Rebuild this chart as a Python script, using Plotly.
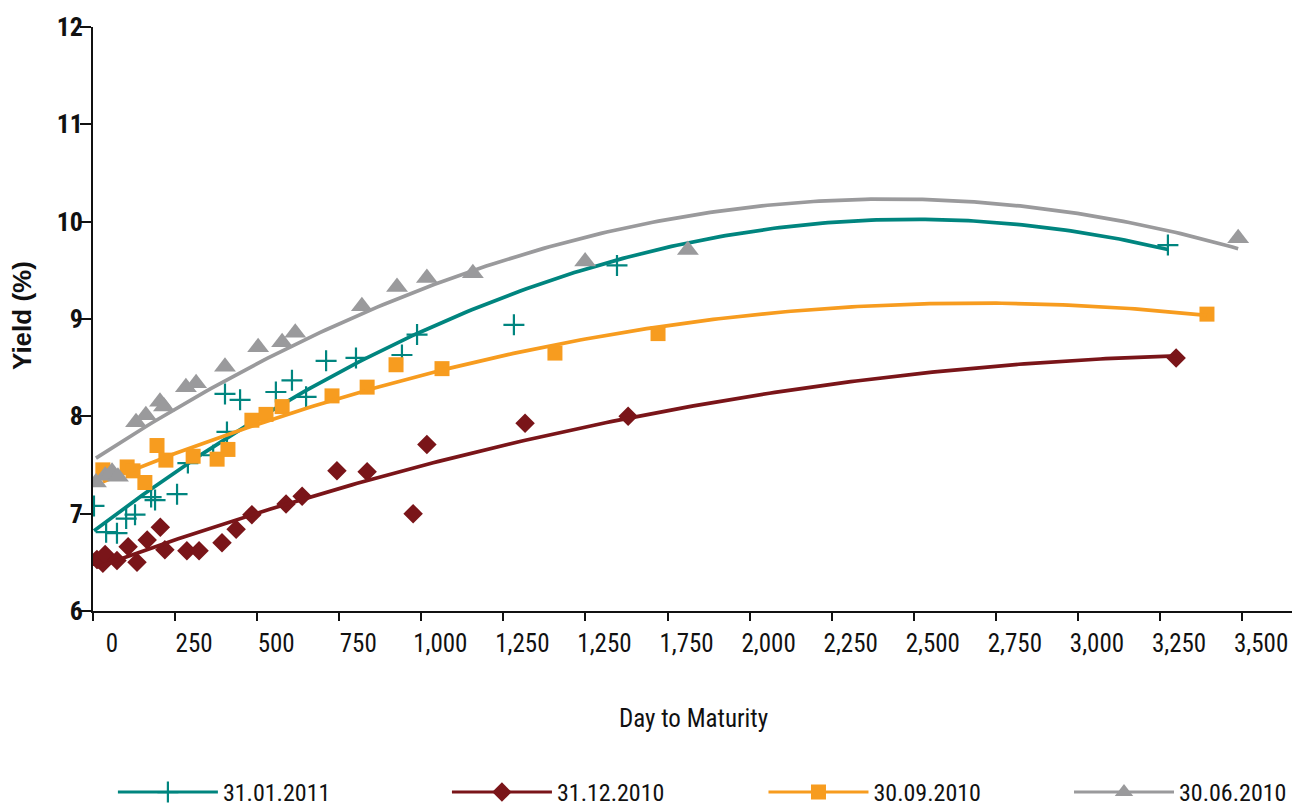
import numpy as np
import plotly.graph_objects as go

# ---- data ----
days_jan11 = [3, 40, 73, 101, 128, 177, 189, 256, 289, 366, 408, 402, 448, 557, 606, 649, 710, 801, 941, 987, 1282, 1596, 3274]
yield_jan11 = [7.08, 6.81, 6.80, 6.95, 6.99, 7.17, 7.14, 7.20, 7.52, 7.60, 7.84, 8.23, 8.17, 8.25, 8.37, 8.20, 8.57, 8.60, 8.63, 8.84, 8.94, 9.55, 9.76]

days_dec10 = [12, 30, 37, 73, 107, 134, 165, 205, 219, 286, 323, 393, 436, 484, 588, 637, 743, 835, 975, 1017, 1316, 1630, 3299]
yield_dec10 = [6.53, 6.49, 6.58, 6.52, 6.66, 6.50, 6.73, 6.86, 6.63, 6.62, 6.62, 6.70, 6.84, 6.99, 7.10, 7.18, 7.44, 7.43, 7.00, 7.71, 7.93, 8.00, 8.60]

days_sep10 = [30, 104, 122, 158, 195, 222, 305, 378, 411, 484, 527, 576, 728, 835, 923, 1063, 1407, 1721, 3393]
yield_sep10 = [7.45, 7.48, 7.44, 7.32, 7.70, 7.55, 7.59, 7.56, 7.66, 7.96, 8.02, 8.10, 8.21, 8.30, 8.53, 8.49, 8.65, 8.85, 9.05]

days_jun10 = [9, 37, 58, 76, 131, 161, 204, 216, 283, 314, 402, 503, 576, 616, 819, 926, 1017, 1157, 1499, 1812, 3488]
yield_jun10 = [7.32, 7.39, 7.43, 7.38, 7.94, 8.01, 8.15, 8.10, 8.30, 8.34, 8.51, 8.71, 8.76, 8.86, 9.13, 9.33, 9.42, 9.47, 9.59, 9.71, 9.83]

x_ticks = [0, 250, 500, 750, 1000, 1250, 1500, 1750, 2000, 2250, 2500, 2750, 3000, 3250, 3500]
# (the source chart repeats "1,250")
x_tick_labels = ["0", "250", "500", "750", "1,000", "1,250", "1,250", "1,750", "2,000",
                 "2,250", "2,500", "2,750", "3,000", "3,250", "3,500"]
y_ticks = [6, 7, 8, 9, 10, 11, 12]

series = [
    ("31.01.2011", days_jan11, yield_jan11, "#00857f",
     dict(symbol="cross-thin-open", size=15, line=dict(width=2.2, color="#00857f")), "legend", 0.0166, "left"),
    ("31.12.2010", days_dec10, yield_dec10, "#7a1519", dict(symbol="diamond", size=15), "legend2", 0.2952, "left"),
    ("30.09.2010", days_sep10, yield_sep10, "#f79c1f", dict(symbol="square", size=15), "legend3", 0.5592, "left"),
    ("30.06.2010", days_jun10, yield_jun10, "#9a9a9c", dict(symbol="triangle-up", size=19), "legend4", 1.0, "right"),
]

FONT = "Roboto Condensed, Liberation Sans Narrow, Arial Narrow, sans-serif"
FONT_W = "Liberation Sans, Arial, sans-serif"
LEG_Y = -(815 - 611) / 584

fig = go.Figure()
legends = {}
for name, xs, ys, col, mk, leg, lx, lanchor in series:
    xs_a = np.array(xs, dtype=float)
    ys_a = np.array(ys, dtype=float)
    coef = np.polyfit(xs_a, ys_a, 2)  # 2nd-order polynomial trendline
    xf = np.linspace(xs_a.min(), xs_a.max(), 200)
    yf = np.polyval(coef, xf)
    fig.add_trace(go.Scatter(
        x=xs, y=ys, mode="markers", name=name, legendgroup=name,
        marker=dict(color=col, **mk), showlegend=False, hoverinfo="x+y"))
    fig.add_trace(go.Scatter(
        x=xf, y=yf, mode="lines", name=name, legendgroup=name,
        line=dict(color=col, width=3.7), showlegend=False, hoverinfo="skip"))
    # legend entry
    fig.add_trace(go.Scatter(
        x=[None], y=[None], mode="lines+markers", name=name, legendgroup=name, legend=leg,
        line=dict(color=col, width=3), marker=dict(color=col, **mk), showlegend=True))
    legends[leg] = dict(orientation="h", x=lx, xanchor=lanchor, y=LEG_Y, yanchor="bottom",
                        itemwidth=100, bgcolor="rgba(0,0,0,0)",
                        font=dict(family=FONT, size=24, color="#111111"))

fig.update_layout(
    width=1295, height=809,
    margin=dict(l=93, r=3, t=27, b=198, autoexpand=False),
    paper_bgcolor="white", plot_bgcolor="white",
    font=dict(family=FONT, size=25, color="#111111"),
    showlegend=True,
    **legends,
    xaxis=dict(range=[0, 3652], tickvals=x_ticks, ticktext=x_tick_labels,
               showgrid=False, zeroline=False, showline=True, linecolor="#111111", linewidth=1.6,
               ticks="outside", ticklen=8, tickwidth=1.6, tickcolor="#111111",
               ticklabelshift=19, ticklabelstandoff=1,
               tickfont=dict(family=FONT, size=25, color="#111111")),
    yaxis=dict(range=[6, 12], tickvals=y_ticks, showgrid=False, zeroline=False,
               showline=True, linecolor="#111111", linewidth=1.6,
               ticks="outside", ticklen=11, tickwidth=1.6, tickcolor="#111111",
               ticklabelstandoff=-8,
               tickfont=dict(family=FONT, size=26, color="#111111", weight="bold")),
    annotations=[
        dict(text="Day to Maturity", xref="paper", yref="paper", x=(693 - 93) / 1199, y=-(718 - 611) / 584,
             xanchor="center", yanchor="middle", showarrow=False,
             font=dict(family=FONT, size=25, color="#111111")),
        dict(text="<b>Yield (%)</b>", xref="paper", yref="paper", x=(22 - 93) / 1199, y=(611 - 316) / 584,
             xanchor="center", yanchor="middle", textangle=-90, showarrow=False,
             font=dict(family=FONT_W, size=26, color="#111111")),
    ],
)

fig.write_html("out.html", config={"displayModeBar": False},
               post_script="document.body.style.margin='0px';document.body.style.overflow='hidden';")
